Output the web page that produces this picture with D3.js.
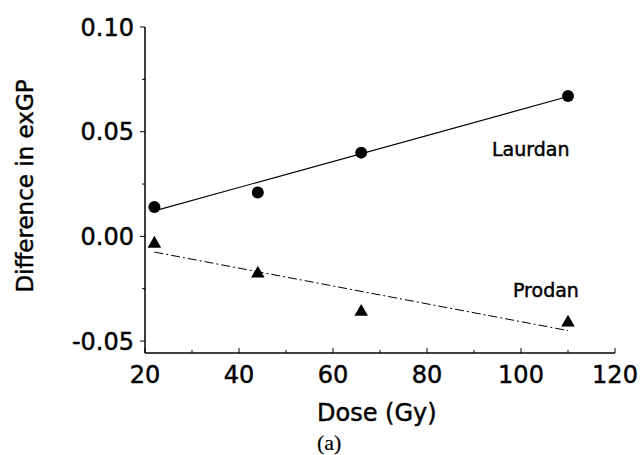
<!DOCTYPE html>
<html>
<head>
  <script src="https://d3js.org/d3.v7.min.js"></script>
  <style>
    body { margin: 0; background: #fff; }
    text { font-family: "DejaVu Sans", sans-serif; fill: #000; stroke: #000; stroke-width: 0.45px; }
  </style>
</head>
<body>
<script>
  // Data
  var dose = [22, 44, 66, 110];
  var laurdan = [0.014, 0.021, 0.040, 0.067];
  var prodan = [-0.0035, -0.0178, -0.036, -0.0412];
  // fitted line end points (as drawn)
  var fitDose = [22, 110];
  var laurdanFit = [0.0122, 0.0668];
  var prodanFit = [-0.0075, -0.0450];
  var xTicks = [20, 40, 60, 80, 100, 120];
  var yTicks = [-0.05, 0, 0.05, 0.10];

  var svg = d3.select("body").append("svg")
    .attr("width", 640).attr("height", 455);

  var x = d3.scaleLinear().domain([20, 120]).range([145, 615]);
  var y = d3.scaleLinear().domain([-0.0557, 0.10]).range([353, 27]);

  // y axis
  var yAxis = svg.append("g").attr("transform", "translate(145,0)");
  yAxis.append("line").attr("y1", y(0.10)).attr("y2", y.range()[0])
    .attr("stroke", "#000").attr("stroke-width", 1.5);
  yAxis.selectAll(".minor").data([-0.025, 0.025, 0.075]).enter().append("line")
    .attr("x1", -3).attr("x2", 0)
    .attr("y1", function(d) { return y(d); }).attr("y2", function(d) { return y(d); })
    .attr("stroke", "#000");
  yAxis.selectAll(".major").data(yTicks).enter().append("line")
    .attr("x1", -5).attr("x2", 0)
    .attr("y1", function(d) { return y(d); }).attr("y2", function(d) { return y(d); })
    .attr("stroke", "#000");
  yAxis.selectAll(".lab").data(yTicks).enter().append("text")
    .attr("x", -11).attr("y", function(d) { return y(d); })
    .attr("dy", "0.36em").attr("text-anchor", "end")
    .style("font-size", "24px")
    .text(function(d) { return d3.format(".2f")(d).replace("−", "-"); });

  // x axis
  var xAxis = svg.append("g").attr("transform", "translate(0,353)");
  xAxis.append("line").attr("x1", x(20)).attr("x2", x(120))
    .attr("stroke", "#000").attr("stroke-width", 1.5);
  xAxis.selectAll(".minor").data([30, 50, 70, 90, 110]).enter().append("line")
    .attr("x1", function(d) { return x(d); }).attr("x2", function(d) { return x(d); })
    .attr("y1", -3).attr("y2", 0).attr("stroke", "#000");
  xAxis.selectAll(".major").data(xTicks).enter().append("line")
    .attr("x1", function(d) { return x(d); }).attr("x2", function(d) { return x(d); })
    .attr("y1", -5).attr("y2", 0).attr("stroke", "#000");
  xAxis.selectAll(".lab").data(xTicks).enter().append("text")
    .attr("x", function(d) { return x(d); }).attr("y", 30)
    .attr("text-anchor", "middle")
    .style("font-size", "24px")
    .text(function(d) { return d; });

  // axis titles
  svg.append("text").attr("x", 317).attr("y", 421)
    .style("font-size", "24px").text("Dose (Gy)");
  svg.append("text").attr("x", 317).attr("y", 450)
    .style("font-family", "'Liberation Serif', serif").style("font-size", "22px")
    .style("stroke-width", "0.2px")
    .text("(a)");
  svg.append("text")
    .attr("transform", "translate(33,186) rotate(-90)")
    .attr("text-anchor", "middle")
    .style("font-size", "23px")
    .text("Difference in exGP");

  // fit lines
  var line = d3.line()
    .x(function(d) { return x(d[0]); })
    .y(function(d) { return y(d[1]); });
  svg.append("path").datum(d3.zip(fitDose, laurdanFit)).attr("d", line)
    .attr("fill", "none").attr("stroke", "#000").attr("stroke-width", 1.2);
  svg.append("path").datum(d3.zip(fitDose, prodanFit)).attr("d", line)
    .attr("fill", "none").attr("stroke", "#000").attr("stroke-width", 1)
    .attr("stroke-dasharray", "9,3,2,3");

  // markers
  svg.selectAll(".dot").data(d3.zip(dose, laurdan)).enter().append("circle")
    .attr("cx", function(d) { return x(d[0]); })
    .attr("cy", function(d) { return y(d[1]); })
    .attr("r", 6).attr("fill", "#000");
  var tri = d3.symbol().type(d3.symbolTriangle).size(80);
  svg.selectAll(".tri").data(d3.zip(dose, prodan)).enter().append("path")
    .attr("d", tri)
    .attr("transform", function(d) { return "translate(" + x(d[0]) + "," + y(d[1]) + ")"; })
    .attr("fill", "#000");

  // series labels
  svg.append("text").attr("x", 492).attr("y", 156)
    .style("font-size", "19px").text("Laurdan");
  svg.append("text").attr("x", 513).attr("y", 297)
    .style("font-size", "19px").text("Prodan");
</script>
</body>
</html>
